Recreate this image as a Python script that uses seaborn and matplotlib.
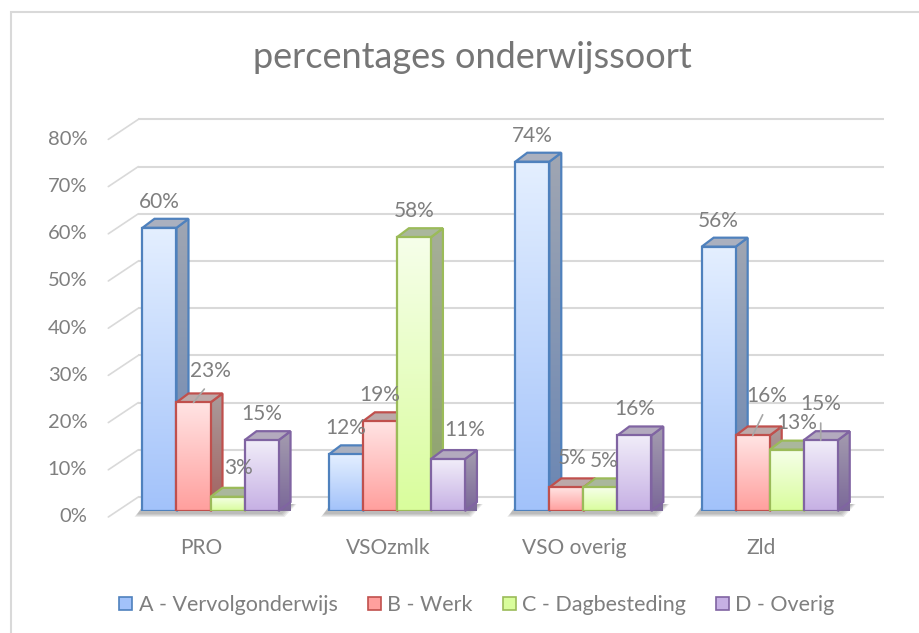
import numpy as np
import pandas as pd
import seaborn as sns
import matplotlib.pyplot as plt
from matplotlib.patches import Polygon, Rectangle, Patch
from matplotlib.colors import LinearSegmentedColormap

# data (percent)
categories = ["PRO", "VSOzmlk", "VSO overig", "Zld"]
series = ["A - Vervolgonderwijs", "B - Werk", "C - Dagbesteding", "D - Overig"]
vervolgonderwijs = [60, 12, 74, 56]
werk = [23, 19, 5, 16]
dagbesteding = [3, 58, 5, 13]
overig = [15, 11, 16, 15]
y_ticks = [0, 10, 20, 30, 40, 50, 60, 70, 80]

df = pd.DataFrame({
    "category": categories * 4,
    "series": np.repeat(series, len(categories)),
    "value": vervolgonderwijs + werk + dagbesteding + overig,
})

# colours (office 2007 style)
edge_cols = ["#4F81BD", "#C0504D", "#9BBB59", "#8064A2"]
front_top = ["#E4EFFF", "#FFE4E4", "#F6FFEA", "#F1EDF9"]
front_bot = ["#A2C2FA", "#FF9F9D", "#D9FD9C", "#C6B0E4"]
side_top = ["#A0A6B2", "#AA9C9C", "#A6AE9A", "#A49CAF"]
side_bot = ["#6A86B4", "#A3605E", "#8DA368", "#7B6899"]
top_cols = ["#AAB0BF", "#BCA9A9", "#AAB79C", "#B3AABE"]
text_grey = "#7F7F7F"
grid_grey = "#D9D9D9"

# label nudges in pixels (right, up) relative to the default spot above a bar
label_nudge = {(0, 1): (17, 5), (0, 2): (11, 3), (1, 3): (17, 3), (2, 1): (6, 3),
               (2, 2): (4, 0), (3, 1): (14, 13), (3, 2): (10, 1), (3, 3): (0, 10)}
leaders = [(0, 1), (3, 1), (3, 3)]

sns.set_style("white")
plt.rcParams["font.family"] = ["Lato", "DejaVu Sans"]

DPI = 100
W, H = 919, 633
fig = plt.figure(figsize=(W / DPI, H / DPI), dpi=DPI)
ax = fig.add_axes([117.3 / W, 1 - 511 / H, (862.9 - 117.3) / W, (511 - 133.4) / H])

sns.barplot(data=df, x="category", y="value", hue="series", order=categories,
            hue_order=series, palette=edge_cols, width=0.73, saturation=1,
            errorbar=None, legend=False, ax=ax)
ax.set_xlim(-0.5, 3.5)
ax.set_ylim(0, 80)
ax.axis("off")

# pixel -> data scale
p0 = ax.transData.transform((0, 0))
p1 = ax.transData.transform((1, 1))
sx, sy = p1[0] - p0[0], p1[1] - p0[1]
def dx(px):
    return px / sx
def dy(px):
    return px / sy

BX, BY = 12, 9          # bar depth
FX, FY = -9, -6         # front plane of floor
WX, WY = 21, 14         # back wall

# back wall grid + side wall diagonals
for v in y_ticks:
    ax.plot([-0.5 + dx(WX), 3.5 + dx(WX)], [v + dy(WY)] * 2, color=grid_grey,
            lw=1.5, zorder=0.5, clip_on=False, solid_capstyle="butt")
    ax.plot([-0.5 + dx(FX), -0.5 + dx(WX)], [v + dy(FY), v + dy(WY)],
            color=grid_grey, lw=1.2, zorder=0.5, clip_on=False)
    ax.text(-0.5 + dx(FX - 21), v + dy(FY), f"{v}%", ha="right", va="center",
            fontsize=14.5, color=text_grey)

for i, cat in enumerate(categories):
    ax.text(i + dx(FX), dy(-37) + dy(FY + 6), cat, ha="center", va="center",
            fontsize=15, color=text_grey)

grad = np.linspace(0, 1, 256).reshape(-1, 1)

# soft shadow under each group
for i in range(len(categories)):
    bars = [c[i] for c in ax.containers]
    x0 = bars[0].get_x()
    x1 = bars[-1].get_x() + bars[-1].get_width()
    for k in range(4):
        g = 4 - k
        ax.add_patch(Polygon([(x0 - dx(4 + g), -dy(2 + g)), (x1 + dx(2 + g), -dy(2 + g)),
                              (x1 + dx(BX + 2 + g), dy(BY - 2)), (x0 + dx(2), dy(BY - 2))],
                             closed=True, fc="#404040", ec="none", alpha=0.10,
                             zorder=1.5, clip_on=False))

for j, cont in enumerate(ax.containers):
    cmap_f = LinearSegmentedColormap.from_list(f"f{j}", [front_bot[j], front_top[j]])
    cmap_s = LinearSegmentedColormap.from_list(f"s{j}", [side_bot[j], side_top[j]])
    for i, bar in enumerate(cont):
        x0, w, h = bar.get_x(), bar.get_width(), bar.get_height()
        x1 = x0 + w
        zf = 4 + 3 * j + 20 * i
        bar.set_facecolor("none")
        bar.set_edgecolor(edge_cols[j])
        bar.set_linewidth(1.6)
        bar.set_zorder(zf)
        ax.imshow(grad, extent=(x0, x1, 0, h), origin="lower", cmap=cmap_f,
                  aspect="auto", zorder=zf - 0.1, interpolation="bilinear")
        # side face
        side = Polygon([(x1, 0), (x1, h), (x1 + dx(BX), h + dy(BY)), (x1 + dx(BX), dy(BY))],
                       closed=True, fc="none", ec=edge_cols[j], lw=1.6,
                       zorder=zf - 2, clip_on=False)
        ax.add_patch(side)
        im = ax.imshow(grad, extent=(x1, x1 + dx(BX), 0, h + dy(BY)), origin="lower",
                       cmap=cmap_s, aspect="auto", zorder=zf - 2.1,
                       interpolation="bilinear", clip_on=False)
        im.set_clip_path(side)
        # top face
        ax.add_patch(Polygon([(x0, h), (x1, h), (x1 + dx(BX), h + dy(BY)), (x0 + dx(BX), h + dy(BY))],
                             closed=True, fc=top_cols[j], ec=edge_cols[j], lw=1.6,
                             zorder=zf - 1, clip_on=False))
        # data label
        nx, ny = label_nudge.get((i, j), (0, 0))
        xc = x0 + w / 2
        if (i, j) in leaders:
            ax.annotate(f"{h:.0f}%", xy=(xc, h), xytext=(nx, 26 + ny),
                        textcoords="offset pixels", ha="center", va="center",
                        fontsize=15, color=text_grey, zorder=100,
                        arrowprops=dict(arrowstyle="-", color="#A6A6A6", lw=1.2,
                                        shrinkA=4, shrinkB=0, relpos=(0.5, 0)))
        else:
            ax.annotate(f"{h:.0f}%", xy=(xc, h), xytext=(nx, 26 + ny),
                        textcoords="offset pixels", ha="center", va="center",
                        fontsize=15, color=text_grey, zorder=100)

ax.set_xlim(-0.5, 3.5)
ax.set_ylim(0, 80)

fig.text(472 / W, 1 - 57 / H, "percentages onderwijssoort", ha="center", va="center",
         fontsize=26, color="#767676")

handles = [Patch(facecolor=front_bot[j], edgecolor=edge_cols[j], lw=1.2) for j in range(4)]
fig.legend(handles, series, loc="center", bbox_to_anchor=(477 / W, 1 - 605 / H), ncol=4,
           frameon=False, fontsize=15.5, labelcolor=text_grey, handlelength=0.6,
           handleheight=0.6, handletextpad=0.3, columnspacing=1.4)

# chart area border (cropped at right/bottom)
fig.add_artist(Rectangle((11 / W, -0.1), 1.2, 1.1 - 12 / H, transform=fig.transFigure,
                         fill=False, ec=grid_grey, lw=1.5))

fig.savefig("out.png", dpi=DPI)
